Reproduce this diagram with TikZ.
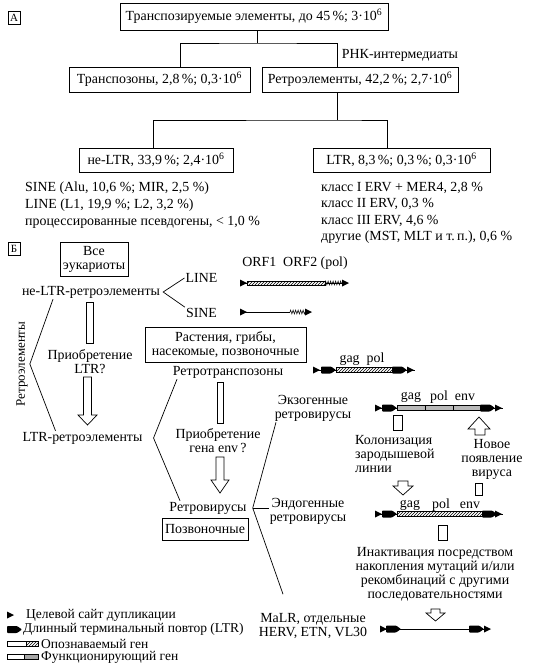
\documentclass[tikz,border=0pt]{standalone}
\usepackage{fontspec}
\setmainfont{Liberation Serif}
\usetikzlibrary{patterns,decorations.pathmorphing}

\begin{document}
\begin{tikzpicture}[
  x=1pt, y=-1pt,
  every node/.style={font=\fontsize{13.9}{14}\selectfont, inner sep=1pt},
  box/.style={draw, line width=0.8pt, align=center, inner sep=3pt},
  lettr/.style={draw, line width=0.6pt, inner sep=1pt, font=\fontsize{11}{12}\selectfont, minimum width=12, minimum height=13},
  legtext/.style={anchor=west, inner sep=0pt, font=\fontsize{13.5}{14}\selectfont},
  tree/.style={line width=0.8pt},
  bracket/.style={line width=0.7pt},
  hollow/.style={draw, fill=white, line width=0.7pt},
  axis/.style={line width=0.5pt},
  known/.style={draw, line width=0.4pt, preaction={fill=white}, pattern=north east lines},
  working/.style={draw, line width=0.4pt, fill=gray!55},
  polya/.style={decorate, decoration={zigzag, segment length=2.5pt, amplitude=2pt}, line width=0.5pt},
  tsd/.pic={\fill (0,-3.5) -- (7,0) -- (0,3.5) -- cycle;},
  ltr/.pic={\fill[rounded corners=0.8pt] (0,-3.5) -- (10,-3.5) -- (15,0) -- (10,3.5) -- (0,3.5) -- cycle;}
]
  \useasboundingbox (0,0) rectangle (533,669);

  % part A: top
  \node[lettr] (la) at (14,18) {А};
  \node[box, minimum width=268, minimum height=27] (te) at (254,16.5) {Транспозируемые элементы, до 45\,\%; 3·10\textsuperscript{6}};
  \node (rna) at (400,55) {РНК-интермедиаты};

  % part A: classes
  \node[box, minimum width=181, minimum height=25] (tp) at (159.5,79.5) {Транспозоны, 2,8\,\%; 0,3·10\textsuperscript{6}};
  \node[box, minimum width=196, minimum height=25] (re) at (360,79.5) {Ретроэлементы, 42,2\,\%; 2,7·10\textsuperscript{6}};
  \node[box, minimum width=154, minimum height=24] (nl) at (156,160) {не-LTR, 33,9\,\%; 2,4·10\textsuperscript{6}};
  \node[box, minimum width=177, minimum height=24] (lt) at (401.5,160) {LTR, 8,3\,\%; 0,3\,\%; 0,3·10\textsuperscript{6}};

  % part A: lists
  \node[align=left, anchor=west, font=\fontsize{13.9}{17}\selectfont] (nllist) at (24,205)
    {SINE (Alu, 10,6 \%; MIR, 2,5 \%)\\LINE (L1, 19,9 \%; L2, 3,2 \%)\\процессированные псевдогены, < 1,0 \%};
  \node[align=left, anchor=west, font=\fontsize{13.9}{16.5}\selectfont] (ltlist) at (320,213)
    {класс I ERV + MER4, 2,8 \%\\класс II ERV, 0,3 \%\\класс III ERV, 4,6 \%\\другие (MST, MLT и т.\,п.), 0,6 \%};

  % part A: tree
  \coordinate (ja) at (257,43);
  \coordinate (jb) at (337,120);
  \draw[tree] ([xshift=3]te.south) -- (ja);
  \draw[tree] ([xshift=20.5]tp.north) |- (ja) -| ([xshift=-23]re.north);
  \draw[tree] ([xshift=-23]re.south) -- (jb);
  \draw[tree] ([xshift=-3]nl.north) |- (jb) -| ([xshift=-14.5]lt.north);

  % part B: non-LTR
  \node[lettr] (lb) at (14,249) {Б};
  \node[box, inner sep=2pt, minimum width=68, minimum height=34] (euk) at (94,259) {Все\\эукариоты};
  \node (neltr) at (91,292) {не-LTR-ретроэлементы};
  \node (line) at (201.5,278) {LINE};
  \node (sine) at (201.5,313) {SINE};
  \node (orf) at (295,263) {ORF1~~ORF2 (pol)};
  \draw[bracket] (line.west) -- ([xshift=2]neltr.east) -- (sine.north west);

  % LINE and SINE elements
  \draw[axis] (240,283) -- (342,283);
  \draw[known] (247,281) rectangle (325,285);
  \draw[polya] (325,283) -- (342,283);
  \pic at (240,283) {tsd};
  \pic at (342,283) {tsd};
  \draw[axis] (240,312) -- (290,312);
  \draw[polya] (290,312) -- (305,312);
  \pic at (240,312) {tsd};
  \pic at (305,312) {tsd};

  % part B: LTR retroelements
  \node[align=center] (acqltr) at (90,362) {Приобретение\\LTR?};
  \node (ltrre) at (82.5,438) {LTR-ретроэлементы};
  \node[rotate=90, font=\fontsize{13}{14}\selectfont] (retrolbl) at (22,364) {Ретроэлементы};
  \draw[bracket] ([xshift=-38]neltr.south) -- ([xshift=1]retrolbl.south) -- ([xshift=-27]ltrre.north);
  \draw[hollow] (86,302) rectangle (93,343);
  \draw[hollow] (83.5,377) -- (91.5,377) -- (91.5,415) -- (97,415) -- (87.5,425) -- (78,415) -- (83.5,415) -- cycle;

  % part B: retrotransposons
  \node[box, inner sep=2pt, minimum width=161, minimum height=35] (plants) at (225.5,344.5) {Растения, грибы,\\насекомые, позвоночные};
  \node (rtp) at (228,372) {Ретротранспозоны};
  \node (gagpol) at (362,359) {gag~~pol};
  \draw[axis] (313,370) -- (415,370);
  \draw[known] (336,367.5) rectangle (392,372.5);
  \pic at (313,370) {tsd};
  \pic at (321,370) {ltr};
  \pic at (392,370) {ltr};
  \pic at (407,370) {tsd};

  % part B: retroviruses
  \node[align=center] (acqenv) at (218,441) {Приобретение\\гена env\,?};
  \node (rv) at (208,508) {Ретровирусы};
  \node[box, inner sep=2pt, minimum width=86, minimum height=22] (vert) at (205,529) {Позвоночные};
  \draw[bracket] ([xshift=-51]rtp.south) -- ([xshift=10]ltrre.east) -- ([xshift=-28]rv.north);
  \draw[hollow] (217,382) rectangle (223,423);
  \draw[hollow] (216,457) -- (224,457) -- (224,480) -- (229,480) -- (220,493) -- (211,480) -- (216,480) -- cycle;

  % part B: exogenous / endogenous
  \node[align=center] (exo) at (313,408) {Экзогенные\\ретровирусы};
  \node[align=center] (endo) at (308,511) {Эндогенные\\ретровирусы};
  \node[align=center] (malr) at (313,626) {MaLR, отдельные\\HERV, ETN, VL30};
  \coordinate (rvb) at ([xshift=5]rv.east);
  \draw[bracket] ([xshift=-37]exo.south) -- (rvb) -- ([xshift=-30,yshift=18]malr.north);
  \draw[bracket] (rvb) -- (rvb -| endo.west);

  % exogenous element
  \node (xgag) at (411,397) {gag};
  \node (xpol) at (439,397) {pol};
  \node (xenv) at (465,397) {env};
  \draw[axis] (375,408) -- (503,408);
  \draw[working] (397,405.5) rectangle (425,410.5);
  \draw[working] (425,405.5) rectangle (453,410.5);
  \draw[working] (453,405.5) rectangle (480,410.5);
  \pic at (375,408) {tsd};
  \pic at (382,408) {ltr};
  \pic at (480,408) {ltr};
  \pic at (495,408) {tsd};

  % colonisation and new virus
  \node[align=left, anchor=west] (colon) at (354,454) {Колонизация\\зародышевой\\линии};
  \node[align=center] (newvir) at (492,459) {Новое\\появление\\вируса};
  \draw[hollow] (393,415) rectangle (402,430);
  \draw[hollow] (398,481) -- (408,481) -- (408,486) -- (413,486) -- (403,495) -- (393,486) -- (398,486) -- cycle;
  \draw[hollow] (475,483) rectangle (482,495);
  \draw[hollow] (475,435) -- (485,435) -- (485,429) -- (490,429) -- (479,417) -- (468,429) -- (475,429) -- cycle;

  % endogenous element
  \node (ngag) at (410,505) {gag};
  \node (npol) at (441,505) {pol};
  \node (nenv) at (470,505) {env};
  \draw[axis] (375,514) -- (503,514);
  \draw[known] (397,511.5) rectangle (482,516.5);
  \pic at (375,514) {tsd};
  \pic at (382,514) {ltr};
  \pic at (482,514) {ltr};
  \pic at (495,514) {tsd};

  % inactivation
  \node[align=center] (inact) at (435,574) {Инактивация посредством\\накопления мутаций и/или\\рекомбинаций с другими\\последовательностями};
  \draw[hollow] (438,525) rectangle (447,540);
  \draw[hollow] (431,609) -- (440,609) -- (440,613) -- (445,613) -- (435.5,621) -- (426,613) -- (431,613) -- cycle;

  % MaLR element
  \draw[axis] (380,629) -- (485,629);
  \pic at (380,629) {tsd};
  \pic at (386,629) {ltr};
  \pic at (469,629) {ltr};
  \pic at (484,629) {tsd};

  % legend
  \pic at (7,615) {tsd};
  \node[legtext] (lg1) at (26,615) {Целевой сайт дупликации};
  \pic at (7,629.5) {ltr};
  \node[legtext] (lg2) at (23,629.5) {Длинный терминальный повтор (LTR)};
  \draw[line width=0.4pt] (7,641) rectangle (26,646);
  \draw[known] (26,641) rectangle (38,646);
  \node[legtext] (lg3) at (41,643.5) {Опознаваемый ген};
  \draw[line width=0.4pt] (7,654.5) rectangle (24,659.5);
  \draw[working, fill=gray!70] (24,654.5) rectangle (38,659.5);
  \node[legtext] (lg4) at (41,657.5) {Функционирующий ген};
\end{tikzpicture}
\end{document}
